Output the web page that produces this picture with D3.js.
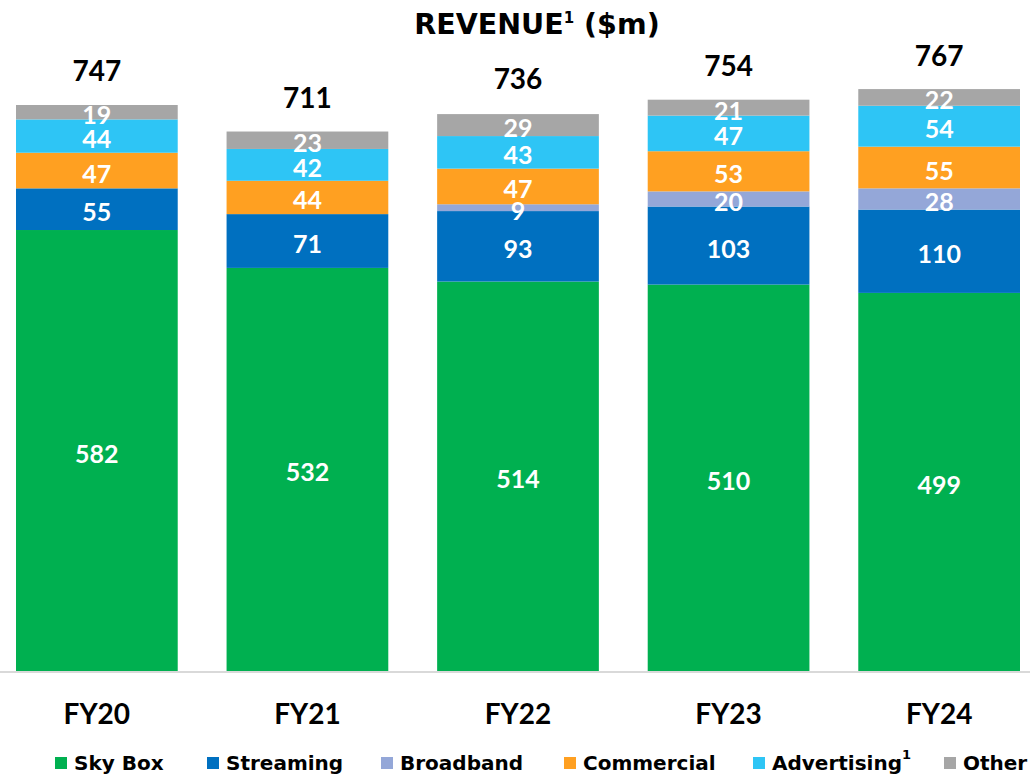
<!DOCTYPE html>
<html><head><meta charset="utf-8">
<script src="https://cdn.jsdelivr.net/npm/d3@7"></script>
<style>body{margin:0;background:#fff}svg{display:block}text{font-family:Lato,"Open Sans",sans-serif;font-weight:700}</style>
</head><body><svg id="c" width="1030" height="776"></svg>
<script>
const years = ["FY20","FY21","FY22","FY23","FY24"];
const skyBox = [582,532,514,510,499];
const streaming = [55,71,93,103,110];
const broadband = [0,0,9,20,28];
const commercial = [47,44,47,53,55];
const advertising = [44,42,43,47,54];
const other = [19,23,29,21,22];
const totals = [747,711,736,754,767];
const seriesNames = ["Sky Box","Streaming","Broadband","Commercial","Advertising","Other"];
const colors = ["#00b050","#0070c0","#94a7d8","#ffa021","#2ec5f5","#a6a6a6"];

const svg = d3.select("#c");
const baseY = 671;
const xb = d3.scaleBand().domain(years).range([16, 1020]).paddingInner(0.232).paddingOuter(0);
const y = d3.scaleLinear().domain([0,747]).range([baseY, 105]);

const rows = years.map((yr,i)=>({year:yr,"Sky Box":skyBox[i],"Streaming":streaming[i],"Broadband":broadband[i],"Commercial":commercial[i],"Advertising":advertising[i],"Other":other[i]}));
const stack = d3.stack().keys(seriesNames)(rows);

const g = svg.append("g");
stack.forEach((layer,li)=>{
  layer.forEach((d,i)=>{
    const v = d[1]-d[0];
    if (v<=0) return;
    g.append("rect").attr("x", xb(years[i])).attr("width", xb.bandwidth())
      .attr("y", y(d[1])).attr("height", y(d[0])-y(d[1])).attr("fill", colors[li]);
  });
});
stack.forEach((layer,li)=>{
  layer.forEach((d,i)=>{
    const v = d[1]-d[0];
    if (v<=0) return;
    g.append("text").attr("x", xb(years[i])+xb.bandwidth()/2).attr("y",(y(d[0])+y(d[1]))/2+2)
      .attr("text-anchor","middle").attr("dominant-baseline","central")
      .attr("font-size",25).attr("fill","#fff").text(v);
  });
});
// axis line
svg.append("line").attr("x1",0).attr("x2",1030).attr("y1",baseY+1).attr("y2",baseY+1).attr("stroke","#d9d9d9").attr("stroke-width",2);
// totals
totals.forEach((t,i)=>{
  svg.append("text").attr("x", xb(years[i])+xb.bandwidth()/2).attr("y", y(t)-24)
    .attr("text-anchor","middle").attr("font-size",28).attr("fill","#000").text(t);
});
// x labels
const xAxis = svg.append("g").attr("transform",`translate(0,${baseY})`)
  .call(d3.axisBottom(xb).tickSize(0).tickPadding(0));
xAxis.select(".domain").remove();
xAxis.selectAll("text").attr("y",53).attr("dy",0).attr("font-size",28).attr("fill","#000")
  .style("font-family","Lato,'Open Sans',sans-serif").style("font-weight",700);
// title
const title = svg.append("text").attr("x",537).attr("y",34).attr("text-anchor","middle").attr("font-size",28.5).attr("fill","#000")
  .style("font-family","'DejaVu Sans',sans-serif");
title.append("tspan").text("REVENUE");
title.append("tspan").attr("font-size",15).attr("dy",-11).text("1");
title.append("tspan").attr("dy",11).text(" ($m)");
// legend
const legX = [55,207,381,564,753,944];
seriesNames.forEach((n,i)=>{
  const lg = svg.append("g").attr("transform",`translate(${legX[i]},757)`);
  lg.append("rect").attr("width",12).attr("height",12).attr("fill",colors[i]);
  const t = lg.append("text").attr("x",19).attr("y",13).attr("font-size",20).attr("fill","#000")
    .style("font-family","'DejaVu Sans',sans-serif").text(n);
  if (n==="Advertising") t.append("tspan").attr("font-size",13).attr("dy",-11).text("1");
});
</script></body></html>
